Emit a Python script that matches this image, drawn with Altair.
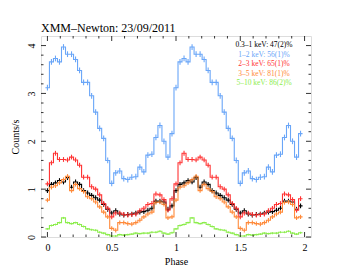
import altair as alt
import pandas as pd

# ---- data (one pulse cycle, 32 phase bins; plotted twice, phase 0-2) ----
NBINS = 32
soft = [0.97, 1.10, 1.13, 1.18, 1.15, 1.24, 1.04, 1.15, 1.10, 0.97, 0.92, 0.87, 0.82, 0.77, 0.68, 0.58,
        0.50, 0.55, 0.48, 0.46, 0.47, 0.48, 0.50, 0.52, 0.53, 0.56, 0.60, 0.75, 0.75, 0.73, 0.58, 0.65]
b12 = [3.12, 3.66, 3.73, 3.66, 3.97, 3.82, 3.82, 3.71, 3.48, 3.23, 3.23, 2.95, 2.61, 2.27, 2.06, 1.60,
       1.12, 1.34, 1.38, 1.22, 1.20, 1.25, 1.26, 1.46, 1.36, 1.71, 1.73, 2.08, 2.33, 2.00, 1.67, 2.16]
b23 = [1.11, 1.55, 1.75, 1.62, 1.62, 1.61, 1.67, 1.61, 1.50, 1.25, 1.25, 1.05, 1.00, 0.88, 0.70, 0.60,
       0.42, 0.50, 0.50, 0.47, 0.46, 0.47, 0.48, 0.55, 0.60, 0.68, 0.70, 0.90, 0.88, 0.78, 0.56, 0.80]
b35 = [0.77, 1.04, 1.07, 1.13, 1.20, 1.27, 0.97, 1.10, 1.01, 0.95, 0.84, 0.80, 0.73, 0.63, 0.52, 0.42,
       0.18, 0.14, 0.30, 0.30, 0.28, 0.27, 0.30, 0.35, 0.42, 0.48, 0.52, 0.72, 0.73, 0.68, 0.40, 0.42]
b510 = [0.17, 0.24, 0.26, 0.30, 0.40, 0.30, 0.28, 0.30, 0.26, 0.22, 0.17, 0.15, 0.14, 0.10, 0.08, 0.05,
        0.02, 0.02, 0.05, 0.04, 0.05, 0.06, 0.08, 0.07, 0.08, 0.08, 0.10, 0.10, 0.12, 0.08, 0.06, 0.09]

series_names = ["0.3–1 keV", "1–2 keV", "2–3 keV", "3–5 keV", "5–10 keV"]
series_vals = [soft, b12, b23, b35, b510]
series_err = [0.05, 0.06, 0.05, 0.045, 0.02]
series_colors = ["#000000", "#6aa6f8", "#ff3434", "#ff8a3a", "#8ded4e"]
pulsed_text = ["0.3–1 keV: 47(2)%", "1–2 keV: 56(1)%", "2–3 keV: 65(1)%",
               "3–5 keV: 81(1)%", "5–10 keV: 86(2)%"]
legend_colors = ["#000000", "#6aa6f8", "#ff3434", "#ff8a3a", "#8ded4e"]

x_major = [0, 0.5, 1, 1.5, 2]
y_major = [0, 1, 2, 3, 4]

# ---- layout ----
W, H = 270, 201
XDOM = [-0.05, 2.05]
YDOM = [0, 4.2]
FONT = "Liberation Serif"
LMAJ, LMIN = 5, 2.5

# ---- tables ----
step_rows, bar_rows = [], []
for s, vals, err in zip(series_names, series_vals, series_err):
    seq = 0
    for cyc in range(2):
        for k, v in enumerate(vals):
            c = cyc + k / NBINS
            for xe in (c - 0.5 / NBINS, c + 0.5 / NBINS):
                step_rows.append({"series": s, "x": xe, "v": v, "seq": seq})
                seq += 1
            bar_rows.append({"series": s, "x": c, "lo": v - err, "hi": v + err})
steps = pd.DataFrame(step_rows)
bars = pd.DataFrame(bar_rows)

xs = alt.Scale(domain=XDOM, nice=False, zero=False)
ys = alt.Scale(domain=YDOM, nice=False, zero=False)
cs = alt.Scale(domain=series_names, range=series_colors)

xaxis = alt.Axis(values=x_major, format="~g", ticks=False, domain=False, grid=False,
                 labelFont=FONT, labelFontSize=10, labelColor="#000", labelPadding=5,
                 title="Phase", titleFont=FONT, titleFontSize=10, titleFontWeight="normal",
                 titleColor="#000", titlePadding=4)
yaxis = alt.Axis(values=y_major, format="~g", ticks=False, domain=False, grid=False,
                 labelFont=FONT, labelFontSize=10, labelColor="#000", labelAngle=270,
                 labelAlign="center", labelBaseline="bottom", labelPadding=5,
                 title="Counts/s", titleFont=FONT, titleFontSize=10, titleFontWeight="normal",
                 titleColor="#000", titlePadding=6)

lines = alt.Chart(steps).mark_line(strokeWidth=1.1).encode(
    x=alt.X("x:Q", scale=xs, axis=xaxis),
    y=alt.Y("v:Q", scale=ys, axis=yaxis),
    color=alt.Color("series:N", scale=cs, legend=None),
    detail="series:N",
    order="seq:Q",
)
errs = alt.Chart(bars).mark_rule(strokeWidth=1.1).encode(
    x=alt.X("x:Q", scale=xs),
    y=alt.Y("lo:Q", scale=ys),
    y2="hi:Q",
    color=alt.Color("series:N", scale=cs, legend=None),
)

# ---- inward ticks on all four sides ----
xmin_ticks = [round(0.1 * i, 1) for i in range(0, 21) if round(0.1 * i, 1) not in x_major]
ymin_ticks = [round(0.2 * i, 1) for i in range(0, 21) if round(0.2 * i, 1) not in y_major]

def xticks(vals, L):
    d = pd.DataFrame({"t": vals})
    b = alt.Chart(d).mark_rule(color="#000", strokeWidth=0.8).encode(
        x=alt.X("t:Q", scale=xs), y=alt.value(H), y2=alt.value(H - L))
    t = alt.Chart(d).mark_rule(color="#000", strokeWidth=0.8).encode(
        x=alt.X("t:Q", scale=xs), y=alt.value(0), y2=alt.value(L))
    return [b, t]

def yticks(vals, L):
    d = pd.DataFrame({"t": vals})
    l = alt.Chart(d).mark_rule(color="#000", strokeWidth=0.8).encode(
        y=alt.Y("t:Q", scale=ys), x=alt.value(0), x2=alt.value(L))
    r = alt.Chart(d).mark_rule(color="#000", strokeWidth=0.8).encode(
        y=alt.Y("t:Q", scale=ys), x=alt.value(W), x2=alt.value(W - L))
    return [l, r]

tick_layers = (xticks(x_major, LMAJ) + xticks(xmin_ticks, LMIN)
               + yticks(y_major, LMAJ) + yticks(ymin_ticks, LMIN))

# ---- pulsed-fraction annotations ----
leg = pd.DataFrame({"txt": pulsed_text, "col": legend_colors})
leg["py"] = [9 + 9.6 * i for i in range(len(leg))]
legend_text = alt.Chart(leg).mark_text(font=FONT, fontSize=7.5, align="center",
                                       baseline="middle").encode(
    x=alt.value(223), y=alt.Y("py:Q", scale=None), text="txt:N",
    color=alt.Color("col:N", scale=None))

title_txt = alt.Chart(pd.DataFrame({"t": ["XMM–Newton: 23/09/2011"]})).mark_text(
    font=FONT, fontSize=12, align="left", baseline="alphabetic", color="#000").encode(
    x=alt.value(0), y=alt.value(-4.5), text="t:N")

chart = alt.layer(lines, errs, *tick_layers, legend_text, title_txt).properties(
    width=W, height=H,
    autosize=alt.AutoSizeParams(type="none"),
    padding={"left": 33, "top": 28, "right": 34, "bottom": 28},
).configure_view(stroke="#000", strokeWidth=1).configure(background="white")

chart.save("out.html", embed_options={"renderer": "svg", "actions": False})
